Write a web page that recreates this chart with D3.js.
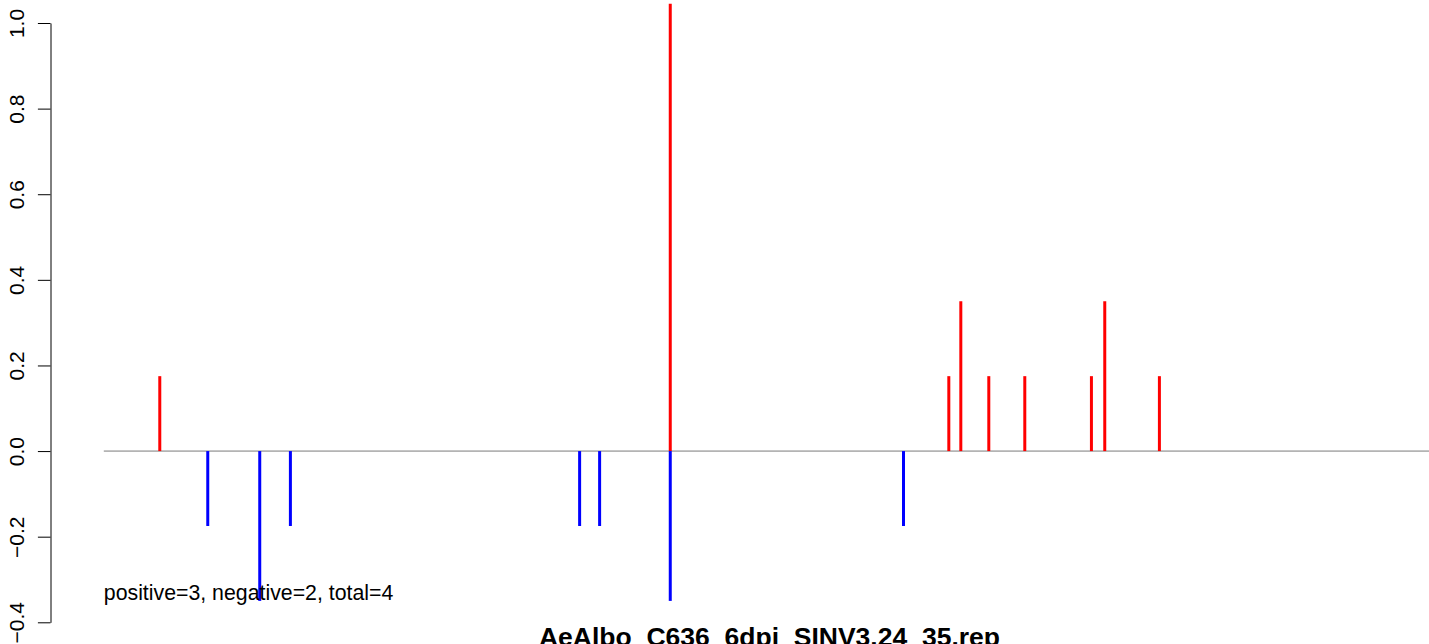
<!DOCTYPE html>
<html>
<head>
<meta charset="utf-8">
<script src="https://cdn.jsdelivr.net/npm/d3@7"></script>
<style>
  html, body { margin: 0; padding: 0; background: #ffffff; }
  svg { display: block; }
  text { font-family: "Liberation Sans", Arial, Helvetica, sans-serif; fill: #000; }
</style>
</head>
<body>
<script>
// ---- data ----
const title = "AeAlbo_C636_6dpi_SINV3.24_35.rep";
const note = "positive=3, negative=2, total=4";
const seqRange = [1, 1000];                 // position range along the element
const posPositions = [43, 426, 635, 644, 665, 692, 742, 752, 793];
const posValues    = [0.175, 1.045, 0.175, 0.35, 0.175, 0.175, 0.175, 0.35, 0.175];
const negPositions = [79, 118, 141, 358, 373, 426, 601];
const negValues    = [-0.175, -0.35, -0.175, -0.175, -0.175, -0.35, -0.175];
const yTicks = [-0.4, -0.2, 0.0, 0.2, 0.4, 0.6, 0.8, 1.0];

// ---- layout ----
const W = 1429, H = 644;
const svg = d3.select("body").append("svg").attr("width", W).attr("height", H);

const x = d3.scaleLinear().domain(seqRange).range([103.8, 1435.3]);
const y = d3.scaleLinear().domain([-0.4, 1.0]).range([622.3, 23]);

// zero baseline across data range
svg.append("line")
  .attr("x1", x(seqRange[0])).attr("x2", x(seqRange[1]))
  .attr("y1", y(0)).attr("y2", y(0))
  .attr("stroke", "#7a7a7a").attr("stroke-width", 1);

// positive (red) spikes
svg.append("g").selectAll("line")
  .data(posPositions.map((p, i) => ({p, v: posValues[i]})))
  .join("line")
  .attr("x1", d => x(d.p)).attr("x2", d => x(d.p))
  .attr("y1", y(0)).attr("y2", d => y(d.v))
  .attr("stroke", "#ff0000").attr("stroke-width", 3);

// negative (blue) spikes
svg.append("g").selectAll("line")
  .data(negPositions.map((p, i) => ({p, v: negValues[i]})))
  .join("line")
  .attr("x1", d => x(d.p)).attr("x2", d => x(d.p))
  .attr("y1", y(0)).attr("y2", d => y(d.v))
  .attr("stroke", "#0000ff").attr("stroke-width", 3);

// y axis
const axisG = svg.append("g")
  .attr("transform", "translate(50.5,0)")
  .call(d3.axisLeft(y).tickValues(yTicks).tickSize(12.6).tickSizeOuter(0)
        .tickFormat(d3.format(".1f")));
axisG.select(".domain").attr("stroke", "#000").attr("stroke-width", 1);
axisG.selectAll(".tick line").attr("stroke", "#000").attr("stroke-width", 1);
axisG.selectAll(".tick text")
  .attr("transform", "rotate(-90)")
  .attr("x", 0).attr("y", -26.5).attr("dy", 0)
  .attr("text-anchor", "middle")
  .style("font-size", "21px")
  .style("font-family", "'Liberation Sans', Arial, Helvetica, sans-serif")
  .attr("fill", "#000");

// annotation
svg.append("text")
  .attr("x", x(seqRange[0])).attr("y", 600)
  .style("font-size", "21.3px")
  .text(note);

// title at bottom (partially cut off, as in the reference)
svg.append("text")
  .attr("x", 769.5).attr("y", 646)
  .attr("text-anchor", "middle")
  .style("font-size", "26.5px").style("font-weight", "bold")
  .text(title);
</script>
</body>
</html>
